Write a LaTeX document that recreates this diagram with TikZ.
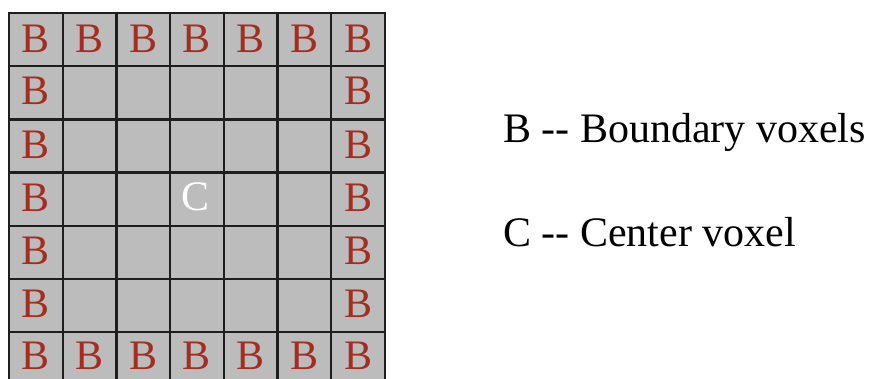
\documentclass[tikz,border=0pt]{standalone}
\usepackage{fontspec}
\setmainfont{Liberation Serif}
\definecolor{bred}{RGB}{165,45,32}
\definecolor{cellgray}{RGB}{188,188,188}
\definecolor{gridline}{RGB}{30,30,30}
\begin{document}
\begin{tikzpicture}[x=1pt,y=-1pt,
  cell/.style={draw=gridline, line width=2.3pt, fill=cellgray, minimum width=53.7pt, minimum height=53.2pt, inner sep=0pt},
  blab/.style={text=bred, inner sep=0pt, font=\fontsize{42}{42}\selectfont},
  clab/.style={text=white, inner sep=0pt, font=\fontsize{42}{42}\selectfont},
  legend/.style={anchor=base west, inner sep=0pt, font=\fontsize{42}{42}\selectfont}]
\clip (0,0) rectangle (875,379);
\foreach \r in {0,...,6}
  \foreach \c in {0,...,6}
    \node[cell] (cell-\r-\c) at ({9+53.7*(\c+0.5)},{13+53.2*(\r+0.5)}) {};
\foreach \c in {0,...,6} {
  \node[blab] (bt-\c) at ([yshift=1pt]cell-0-\c.center) {B};
  \node[blab] (bb-\c) at ([yshift=2.5pt]cell-6-\c.center) {B};
}
\foreach \r in {1,...,5} {
  \node[blab] (bl-\r) at ([yshift=1.5pt]cell-\r-0.center) {B};
  \node[blab] (br-\r) at ([yshift=1.5pt]cell-\r-6.center) {B};
}
\node[clab] (center) at ([xshift=-1pt,yshift=2pt]cell-3-3.center) {C};
\node[legend] (legB) at (503,143) {B -{}- Boundary voxels};
\node[legend] (legC) at (503,247) {C -{}- Center voxel};
\end{tikzpicture}
\end{document}
